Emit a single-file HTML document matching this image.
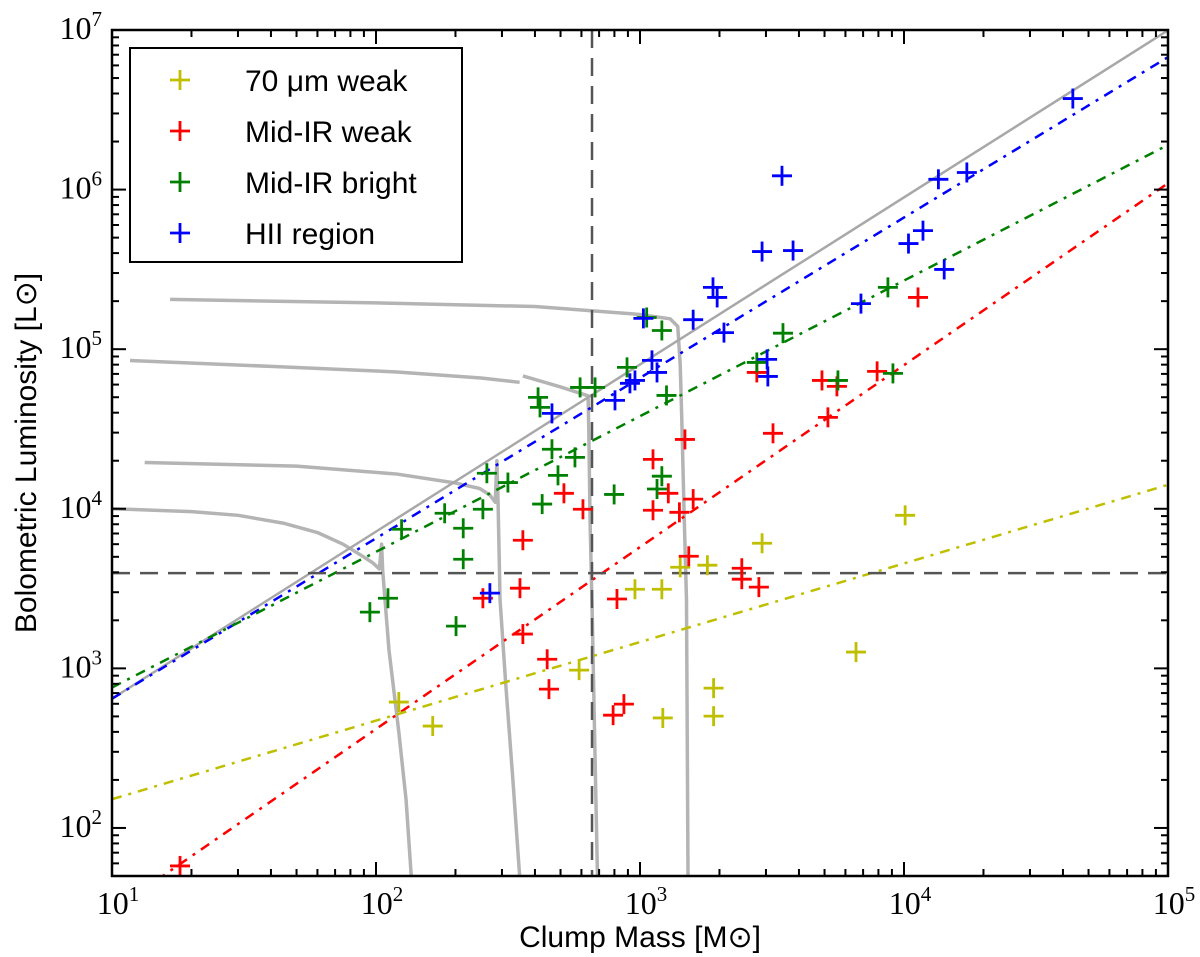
<!DOCTYPE html>
<html><head><meta charset="utf-8"><style>
html,body{margin:0;padding:0;background:#fff;}
svg{display:block;}
.tick{font-family:"Liberation Serif",serif;font-size:32px;fill:#000;}
.lab{font-family:"Liberation Sans",sans-serif;font-size:30px;fill:#000;}
</style></head><body>
<svg id="chart" width="1200" height="957" viewBox="0 0 1200 957" xmlns="http://www.w3.org/2000/svg">
<rect x="0" y="0" width="1200" height="957" fill="#fff"/>
<g id="plot"></g>
</svg>
<script>
// ---- data ----
const yellowMass = [122,164,588,957,1210,1420,1800,1900,1900,1220,2900,6580,10100];
const yellowLum  = [615,435,975,3130,3130,4300,4430,752,502,489,6080,1265,9100];
const redMass = [18.1,254,351,360,360,445,452,515,608,818,791,869,1120,1120,1280,1410,1480,1590,1530,2430,2430,2820,2770,3190,4890,5570,5150,7910,11300];
const redLum  = [57.8,2750,3180,6350,1640,1140,741,12500,9930,2720,509,597,20400,9790,12500,9500,27200,11500,5040,4240,3620,3230,71500,29700,63700,58500,37400,72600,211000];
const greenMass = [1060,1210,893,593,676,411,418,1260,464,567,263,316,489,1210,1160,798,426,182,254,125,214,214,111,94.8,201,2770,3480,8690,5620,9080];
const greenLum  = [158000,131000,76900,57600,57600,49900,43200,51300,23600,21000,16700,14600,16200,16000,13300,12300,10700,9370,9930,7440,7550,4830,2750,2250,1840,82600,126000,244000,63700,70500];
const blueMass = [3450,2900,3800,1890,1960,1590,2080,13500,17300,11800,10400,14200,6870,3030,3050,1030,1110,1160,957,916,804,464,270,43600];
const blueLum  = [1220000,409000,415000,244000,211000,153000,127000,1160000,1280000,553000,459000,316000,193000,86300,67500,156000,85100,71500,63700,61100,47800,39600,2960,3720000];
// fit lines: log L = logIntercept + slope*(log M - 1)
const fitNames = ['gray','blue','green','red','yellow'];
const fitIntercepts = [2.81,2.81,2.88,1.48,2.18];
const fitSlopes = [1.047,1.005,0.85,1.14,0.4925];
// evolutionary tracks [mass, lum]
const trackA = [[16.6,205000],[100,195000],[400,185000],[1000,165000],[1300,155000],[1390,139000],[1420,80000],[1440,36000],[1470,9000],[1500,2700],[1520,50]];
const trackB = [[11.7,85000],[40,78000],[120,72000],[250,66000],[350,62000]];
const trackB2 = [[360,68000],[500,58000],[636,51000],[640,30000],[647,8400],[660,2000],[675,300],[690,50]];
const trackC = [[13.3,19500],[50,18500],[120,16500],[200,14500],[247,13400],[270,12200],[283,11000],[287,20000],[290,11000],[295,2700],[310,800],[330,200],[350,50]];
const trackD = [[10,10000],[20,9600],[30,9100],[45,8100],[60,7100],[75,6000],[88,5100],[97,4600],[103,4200],[105,6000],[106,4100],[112,1300],[122,400],[130,150],[136,50]];
const xTicks = [1,2,3,4,5];
const yTicks = [2,3,4,5,6,7];

// ---- axes ----
const X0=112,X1=1168,Y0=30,Y1=876;
const xmin=1,xmax=5,ymin=Math.log10(50),ymax=7;
function sx(m){return X0+(Math.log10(m)-xmin)/(xmax-xmin)*(X1-X0);}
function sy(l){return Y1-(Math.log10(l)-ymin)/(ymax-ymin)*(Y1-Y0);}
const NS='http://www.w3.org/2000/svg';
const plot=document.getElementById('plot');
function el(tag,attrs,parent){const e=document.createElementNS(NS,tag);for(const k in attrs)e.setAttribute(k,attrs[k]);(parent||plot).appendChild(e);return e;}

const clip=el('clipPath',{id:'clip'});
el('rect',{x:X0,y:Y0,width:X1-X0,height:Y1-Y0},clip);
const inner=el('g',{'clip-path':'url(#clip)'});



// tracks
[trackA,trackB,trackB2,trackC,trackD].forEach((t,i)=>{
  const p=el('polyline',{points:t.map(d=>sx(d[0])+','+sy(d[1])).join(' '),fill:'none',stroke:'#b4b4b4','stroke-width':3.5,'stroke-linejoin':'round'},inner);
  
  
});

// fit lines
const fitColors={gray:'#a8a8a8',blue:'#0000ff',green:'#008000',red:'#ff0000',yellow:'#bfbf00'};
fitNames.forEach((n,i)=>{
  const a=fitIntercepts[i],b=fitSlopes[i];
  const l1=Math.pow(10,a), l2=Math.pow(10,a+b*4);
  const ln=el('line',{x1:sx(10),y1:sy(l1),x2:sx(1e5),y2:sy(l2),stroke:fitColors[n],'stroke-width':2.5,'stroke-dasharray':n==='gray'?'none':'10,7,3,7'},inner);
  
  
});

// dashed thresholds
const vline=el('line',{x1:sx(658),y1:Y0,x2:sx(658),y2:Y1,stroke:'#555','stroke-width':2.5,'stroke-dasharray':'18,10'},inner);


const hline=el('line',{x1:X0,y1:sy(3950),x2:X1,y2:sy(3950),stroke:'#555','stroke-width':2.5,'stroke-dasharray':'18,10'},inner);



// markers
function plus(x,y,c,parent,name){
  const g=el('g',{stroke:c,'stroke-width':2.8},parent);
  
  
  el('line',{x1:x-10,y1:y,x2:x+10,y2:y},g);
  el('line',{x1:x,y1:y-10,x2:x,y2:y+10},g);
}
[[yellowMass,yellowLum,'#bfbf00','70um-weak-point'],[redMass,redLum,'#ff0000','mid-ir-weak-point'],[greenMass,greenLum,'#008000','mid-ir-bright-point'],[blueMass,blueLum,'#0000ff','hii-region-point']].forEach(s=>{
  s[0].forEach((m,i)=>plus(sx(m),sy(s[1][i]),s[2],inner,s[3]));
});

// frame
const frame=el('rect',{x:X0,y:Y0,width:X1-X0,height:Y1-Y0,fill:'none',stroke:'#000','stroke-width':2.5});



// ticks
const tg=el('g',{stroke:'#000','stroke-width':2});
for(let d=xmin;d<=xmax;d++){
  for(let k=1;k<=9;k++){
    const v=Math.log10(k)+d; if(v>xmax)break;
    const x=sx(Math.pow(10,v)); const len=k===1?14:7;
    el('line',{x1:x,y1:Y1,x2:x,y2:Y1-len},tg);
    el('line',{x1:x,y1:Y0,x2:x,y2:Y0+len},tg);
  }
}
for(let d=1;d<=7;d++){
  for(let k=1;k<=9;k++){
    const v=Math.log10(k)+d; if(v>ymax)break; if(v<ymin)continue;
    const y=sy(Math.pow(10,v)); const len=k===1?14:7;
    el('line',{x1:X0,y1:y,x2:X0+len,y2:y},tg);
    el('line',{x1:X1,y1:y,x2:X1-len,y2:y},tg);
  }
}
function tickLabel(x,y,exp,anchor,name){
  const t=el('text',{x:x,y:y,'text-anchor':anchor,class:'tick'});
  
  
  t.appendChild(document.createTextNode('10'));
  const s=el('tspan',{dy:-13,'font-size':21},t); s.textContent=exp;
}
xTicks.forEach(e=>tickLabel(sx(Math.pow(10,e))+6,Y1+38,e,'middle','x-tick-label'));
yTicks.forEach(e=>tickLabel(X0-10,sy(Math.pow(10,e))+9,e,'end','y-tick-label'));

// axis titles
const xt=el('text',{x:640,y:947,'text-anchor':'middle',class:'lab'});


xt.textContent='Clump Mass [M\u2299]';
const yt=el('text',{x:0,y:0,'text-anchor':'middle',class:'lab',transform:'translate(36,453) rotate(-90)'});


yt.textContent='Bolometric Luminosity [L\u2299]';

// legend
const lg=el('g',{});


el('rect',{x:130,y:48,width:332,height:214,fill:'#fff',stroke:'#000','stroke-width':2},lg);
const legLabels=['70 \u03bcm weak','Mid-IR weak','Mid-IR bright','HII region'];
const legColors=['#bfbf00','#ff0000','#008000','#0000ff'];
legLabels.forEach((t,i)=>{
  const y=80+i*51;
  plus(180,y,legColors[i],lg,'legend-marker');
  const tx=el('text',{x:245,y:y+11,class:'lab'},lg);
  
  
  tx.textContent=t;
});
</script>
</body></html>
